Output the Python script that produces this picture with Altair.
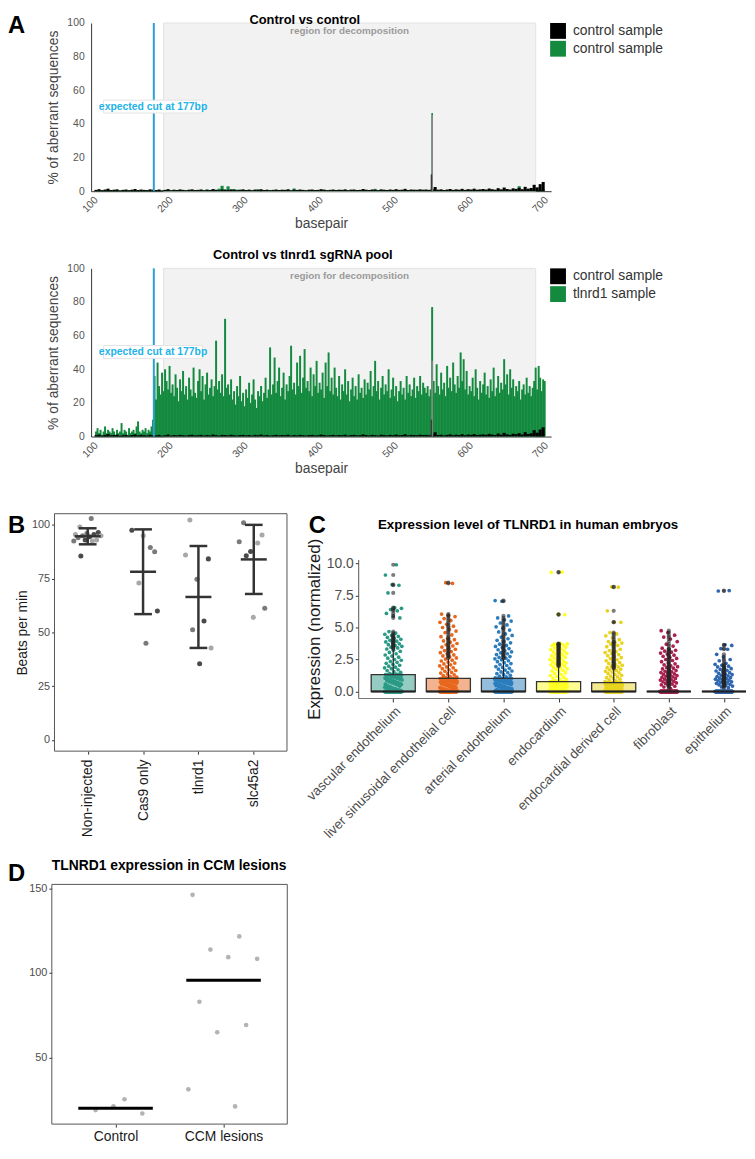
import json
import altair as alt
import pandas as pd

FONT = "Liberation Sans"
GREEN = "#138a3e"
CUT_BLUE = "#2a9fd4"
W, H = 739, 1143  # whole figure (single view); panels are placed through their scale ranges

# ---------------- Panel A data ----------------
ctrl_bp = list(range(100, 700, 4))
ctrl_black = [
    0.8, 1.2, 0.6, 1.0, 1.5, 0.7, 0.9, 1.1, 0.5, 0.8,
    1.0, 0.6, 0.9, 1.3, 0.7, 1.0, 0.8, 0.6, 1.1, 0.9,
    0.7, 1.0, 0.5, 0.8, 1.2, 0.6, 0.9, 0.7, 1.0, 0.8,
    0.6, 0.9, 1.1, 0.7, 0.8, 1.0, 0.6, 0.9, 0.7, 1.2,
    0.8, 0.6, 1.0, 0.9, 0.7, 1.1, 0.8, 0.6, 0.9, 1.0,
    0.7, 0.9, 0.6, 1.0, 0.8, 1.2, 0.7, 0.9, 0.6, 0.8,
    1.0, 0.7, 0.9, 0.8, 1.1, 0.6, 0.9, 0.7, 1.0, 0.8,
    0.6, 0.9, 1.0, 0.7, 0.8, 1.2, 0.9, 0.6, 0.8, 1.0,
    0.7, 0.9, 0.8, 1.1, 0.6, 0.9, 1.0, 0.7, 0.8, 1.3,
    0.9, 0.7, 1.0, 0.8, 0.6, 1.1, 0.9, 0.7, 1.0, 0.8,
    1.2, 0.8, 0.9, 1.4, 0.7, 1.0, 0.9, 0.8, 1.1, 0.9,
    1.0, 0.8, 1.2, 2.5, 0.9, 1.1, 0.7, 1.0, 1.3, 0.8,
    1.1, 0.9, 1.4, 0.8, 1.2, 1.0, 1.5, 0.9, 1.1, 1.3,
    1.0, 1.6, 1.2, 0.9, 1.8, 1.1, 2.2, 1.3, 1.0, 1.7,
    1.4, 2.0, 1.2, 2.6, 1.5, 1.9, 3.8, 2.3, 4.2, 5.5]
ctrl2_green = [
    0.5, 0.3, 0.6, 0.4, 0.8, 0.3, 0.5, 0.7, 0.4, 0.6,
    0.3, 0.5, 0.4, 0.6, 0.3, 0.5, 0.4, 0.7, 0.3, 0.5,
    0.4, 0.6, 0.3, 0.5, 0.8, 0.4, 0.6, 0.3, 0.9, 0.5,
    0.4, 0.7, 0.5, 0.3, 0.6, 0.8, 0.4, 0.9, 0.5, 1.2,
    0.8, 1.5, 3.2, 1.0, 2.9, 0.7, 1.3, 0.9, 0.6, 1.0,
    0.5, 0.8, 0.4, 0.6, 1.1, 0.5, 0.7, 0.4, 0.6, 0.5,
    0.7, 0.4, 0.6, 0.5, 0.9, 0.4, 1.6, 0.8, 0.5, 0.6,
    0.4, 0.6, 0.5, 0.7, 0.4, 0.6, 0.8, 0.5, 0.4, 0.6,
    0.5, 0.7, 0.4, 0.6, 0.5, 0.8, 0.4, 0.6, 0.5, 0.7,
    0.4, 0.6, 0.5, 1.4, 0.7, 0.5, 0.6, 0.4, 0.5, 0.7,
    0.6, 0.4, 0.5, 0.7, 0.4, 0.6, 0.5, 0.8, 0.4, 0.6,
    0.5, 0.7, 0.4, 1.0, 0.6, 0.5, 0.7, 0.4, 0.6, 0.5,
    0.7, 0.4, 0.6, 0.5, 0.8, 0.4, 0.6, 0.7, 0.5, 0.6,
    0.4, 0.6, 0.5, 0.7, 0.4, 0.6, 0.8, 0.5, 0.6, 0.4,
    0.7, 3.0, 0.5, 0.8, 0.6, 1.0, 0.7, 0.9, 0.8, 1.1]
ctrl_spike_tall_bp, ctrl_spike_tall_val = [548], [45]
ctrl_spike_low_bp, ctrl_spike_low_val = [547], [10]
ctrl2_spike_bp, ctrl2_spike_val = [548], [46.5]

tl_bp = list(range(100, 700, 2))
tl_green = [
    3, 5, 2, 4, 1, 3, 6, 2, 4, 3,
    2, 5, 3, 1, 4, 2, 3, 8, 2, 4,
    3, 1, 5, 2, 3, 4, 2, 6, 9, 3,
    2, 4, 3, 5, 2, 4, 3, 6, 10,
    36, 22, 44, 30, 25, 38, 27, 40, 33, 28,
    42, 26, 31, 24, 37, 29, 21, 34, 27, 39,
    25, 30, 22, 35, 28, 24, 41, 26, 23, 33,
    40, 27, 36, 22, 31, 38, 25, 29, 34, 24,
    30, 57, 28, 33, 26, 37, 24, 70, 29, 31,
    25, 34, 22, 27, 19, 30, 24, 36, 21, 26,
    18, 28, 23, 32, 20, 25, 34, 22, 17, 27,
    24, 30, 21, 26, 35, 23, 28, 53, 25, 31,
    47, 26, 33, 41, 24, 29, 38, 22, 31, 27,
    36, 54, 28, 32, 25, 44, 30, 48, 26, 35,
    52, 29, 33, 27, 41, 24, 37, 30, 45, 26,
    32, 28, 38, 23, 44, 30, 50, 27, 35, 25,
    41, 29, 24, 36, 22, 31, 27, 40, 25, 33,
    21, 28, 35, 24, 30, 22, 37, 26, 29, 23,
    34, 25, 32, 28, 39, 24, 30, 45, 27, 33,
    22, 29, 36, 25, 31, 27, 40, 23, 28, 35,
    24, 30, 21, 27, 33, 25, 29, 22, 36, 26,
    31, 24, 28, 35, 23, 30, 27, 36, 25, 32,
    29, 26, 30, 24, 28, 77, 33, 26, 43, 30,
    25, 38, 28, 32, 24, 42, 29, 35, 27, 44,
    31, 26, 36, 29, 50, 33, 46, 28, 39, 25,
    30, 27, 35, 24, 40, 29, 22, 33, 26, 31,
    38, 25, 30, 23, 34, 27, 41, 24, 29, 36,
    26, 32, 28, 46, 31, 37, 25, 40, 29, 34,
    24, 30, 27, 33, 22, 28, 31, 25, 35, 26,
    30, 24, 29, 33, 41, 28, 42, 35, 27, 34, 33]

region_start, region_end = 190, 686
cut_bp = 177
cut_label_bp, cut_label_val = 176, 50.3
a_ticks = [100, 200, 300, 400, 500, 600, 700]
a_yticks = [0, 20, 40, 60, 80, 100]

# ---------------- Panel B data ----------------
b_groups = ["Non-injected", "Cas9 only", "tlnrd1", "slc45a2"]
b_noninjected = [103, 99, 96.5, 96, 95.5, 95.5, 95, 95, 94.5, 94, 93, 93, 92.5, 92.5, 85.5]
b_cas9 = [87.5, 95, 97.5, 89.5, 73, 60, 45]
b_tlnrd1 = [102.3, 84.2, 74.7, 86, 55.3, 51.2, 42.8, 35.4]
b_slc45a2 = [101, 95.3, 87.6, 92.2, 91.6, 85.7, 61.2, 57]
b_yticks = [0, 25, 50, 75, 100]

# ---------------- Panel C data ----------------
c_names = ["vascular endothelium", "liver sinusoidal endothelial cell", "arterial endothelium",
           "endocardium", "endocardial derived cell", "fibroblast", "epithelium"]
c_point_colors = ["#2a9a86", "#e8671e", "#2b7dbc", "#ffff24", "#e8d31e", "#a8224d", "#2f66b0"]
c_zero_counts = [115, 115, 115, 115, 115, 200, 170]
c_vascular = [
    0.06, 0.12, 0.09, 0.18, 0.24, 0.15, 0.29, 0.33, 0.21, 0.38,
    0.42, 0.27, 0.47, 0.51, 0.36, 0.55, 0.6, 0.44, 0.64, 0.68,
    0.57, 0.72, 0.75, 0.62, 0.79, 0.83, 0.7, 0.87, 0.9, 0.77,
    0.94, 0.97, 0.85, 1.01, 1.04, 0.92, 1.07, 1.1, 0.99, 1.13,
    1.16, 1.05, 1.19, 1.21, 1.12, 1.24, 1.26, 1.18, 1.28, 1.29,
    1.3, 1.3, 1.31, 1.31, 1.31,
    1.36, 1.42, 1.5, 1.55, 1.63, 1.7, 1.78, 1.85, 1.9, 1.98,
    2.05, 2.12, 2.2, 2.28, 2.35, 2.44, 2.5, 2.6, 2.68, 2.77,
    2.85, 2.95, 3.05, 3.14, 3.22,
    3.32, 3.4, 3.46, 3.53, 3.6, 3.66, 3.72, 3.8, 3.87, 3.93,
    4.0, 4.08, 4.15, 4.22, 4.3, 4.38, 4.47, 4.56, 4.68,
    5.75, 5.9, 6.1, 6.3, 6.4, 6.5, 6.55, 7.7, 8.3, 8.35, 9.1, 9.9]
c_liver = [
    0.05, 0.11, 0.08, 0.16, 0.2, 0.13, 0.25, 0.29, 0.19, 0.33,
    0.37, 0.24, 0.41, 0.45, 0.31, 0.49, 0.52, 0.4, 0.56, 0.59,
    0.47, 0.62, 0.65, 0.54, 0.68, 0.71, 0.6, 0.74, 0.77, 0.66,
    0.8, 0.82, 0.73, 0.85, 0.87, 0.79, 0.89, 0.91, 0.84, 0.93,
    0.95, 0.88, 0.97, 0.98, 0.92, 0.99, 1.0, 0.96, 1.01, 1.02,
    1.02, 1.03, 1.03, 1.03, 1.03,
    1.08, 1.12, 1.18, 1.25, 1.3, 1.37, 1.44, 1.5, 1.58, 1.64,
    1.7, 1.78, 1.85, 1.92, 2.0, 2.08, 2.15, 2.22, 2.3, 2.38,
    2.45, 2.53,
    2.62, 2.7, 2.78, 2.86, 2.95, 3.03, 3.12, 3.2, 3.3, 3.38,
    3.47, 3.56, 3.65, 3.75, 3.85, 3.95, 4.05, 4.15, 4.28, 4.42,
    4.6, 4.72, 4.85, 5.0, 5.1, 5.25, 5.4, 5.55, 5.7, 5.85, 5.95, 6.05,
    8.45, 8.5]
c_arterial = [
    0.07, 0.13, 0.1, 0.18, 0.22, 0.15, 0.27, 0.31, 0.2, 0.35,
    0.39, 0.26, 0.43, 0.46, 0.33, 0.5, 0.53, 0.42, 0.57, 0.6,
    0.48, 0.63, 0.66, 0.55, 0.69, 0.72, 0.61, 0.75, 0.78, 0.67,
    0.81, 0.83, 0.74, 0.86, 0.88, 0.8, 0.9, 0.92, 0.85, 0.94,
    0.95, 0.89, 0.97, 0.98, 0.93, 0.99, 1.0, 0.96, 1.01, 1.02,
    1.02, 1.03, 1.03, 1.03, 1.03,
    1.06, 1.14, 1.2, 1.27, 1.33, 1.4, 1.47, 1.53, 1.6, 1.67,
    1.74, 1.81, 1.88, 1.95, 2.03, 2.1, 2.18, 2.25, 2.33, 2.4,
    2.47, 2.55,
    2.6, 2.66, 2.73, 2.8, 2.88, 2.95, 3.02, 3.1, 3.18, 3.26,
    3.35, 3.43, 3.52, 3.6, 3.7, 3.8, 3.9, 4.0, 4.12, 4.25,
    4.38, 4.5,
    4.65, 4.8, 4.95, 5.05, 5.2, 5.35, 5.5, 5.6, 5.75, 5.9,
    7.05, 7.1]
c_endocardium = [
    0.04, 0.09, 0.07, 0.13, 0.16, 0.11, 0.2, 0.23, 0.15, 0.26,
    0.29, 0.19, 0.32, 0.35, 0.25, 0.38, 0.4, 0.31, 0.43, 0.45,
    0.36, 0.48, 0.5, 0.41, 0.52, 0.54, 0.47, 0.56, 0.58, 0.51,
    0.6, 0.62, 0.55, 0.64, 0.65, 0.59, 0.67, 0.68, 0.63, 0.7,
    0.71, 0.66, 0.72, 0.73, 0.69, 0.74, 0.75, 0.72, 0.76, 0.76,
    0.76, 0.77, 0.77, 0.77, 0.77,
    0.8, 0.86, 0.92, 0.98, 1.05, 1.12, 1.18, 1.25, 1.32, 1.4,
    1.47, 1.54, 1.6, 1.66, 1.72, 1.78, 1.84, 1.9,
    1.98, 2.03, 2.08, 2.13, 2.18, 2.23, 2.28, 2.33, 2.38, 2.44,
    2.5, 2.56, 2.62, 2.68, 2.74, 2.8, 2.86, 2.92, 2.98, 3.04,
    3.1, 3.16, 3.22, 3.28, 3.34, 3.4, 3.46, 3.52, 3.58, 3.63,
    3.68, 3.72, 3.75, 3.7,
    6.0, 6.03, 9.3, 9.33]
c_endo_derived = [
    0.04, 0.08, 0.06, 0.12, 0.15, 0.1, 0.18, 0.21, 0.14, 0.24,
    0.27, 0.17, 0.29, 0.32, 0.23, 0.35, 0.37, 0.28, 0.39, 0.41,
    0.33, 0.44, 0.46, 0.38, 0.48, 0.5, 0.43, 0.52, 0.53, 0.47,
    0.55, 0.57, 0.51, 0.58, 0.6, 0.54, 0.61, 0.62, 0.57, 0.63,
    0.64, 0.6, 0.65, 0.66, 0.63, 0.67, 0.68, 0.66, 0.69, 0.69,
    0.69, 0.7, 0.7, 0.7, 0.7,
    0.72, 0.78, 0.84, 0.9, 0.96, 1.02, 1.08, 1.14, 1.2, 1.27,
    1.34, 1.4, 1.46, 1.52, 1.58, 1.64, 1.69, 1.74,
    1.8, 1.86, 1.92, 1.98, 2.05, 2.12, 2.19, 2.26, 2.33, 2.4,
    2.48, 2.56, 2.64, 2.72, 2.8, 2.88, 2.96, 3.04, 3.12, 3.2,
    3.3, 3.4, 3.5, 3.6, 3.7, 3.78, 3.85, 3.9,
    4.05, 4.2, 4.35, 4.5, 4.6,
    5.4, 5.43, 6.3, 8.15, 8.18]
c_fibroblast = [
    0.22, 0.35, 0.41, 0.48, 0.52, 0.58, 0.63, 0.67, 0.72, 0.76,
    0.8, 0.85, 0.89, 0.93, 0.97, 1.02, 1.06, 1.1, 1.15, 1.19,
    1.24, 1.28, 1.33, 1.38, 1.43, 1.48, 1.53, 1.58, 1.64, 1.7,
    1.76, 1.82, 1.88, 1.94, 2.0,
    2.08, 2.16, 2.24, 2.33, 2.42, 2.5, 2.58, 2.66, 2.75, 2.84,
    2.92, 3.0, 3.08, 3.15, 3.22, 3.3, 3.38,
    3.55, 3.7, 3.9, 4.1, 4.25, 4.4, 4.6, 4.75]
c_epithelium = [
    0.3, 0.36, 0.42, 0.47, 0.52, 0.56, 0.6, 0.64, 0.68, 0.72,
    0.76, 0.8, 0.84, 0.88, 0.92, 0.96, 1.0, 1.04, 1.08, 1.12,
    1.17, 1.22, 1.27, 1.32, 1.37, 1.42, 1.48, 1.54, 1.6, 1.66,
    1.72, 1.78, 1.85, 1.92, 1.98, 2.05, 2.12, 2.2,
    2.4, 2.5, 2.7, 2.9, 3.3, 3.35, 3.6, 3.65,
    7.85, 7.88]
c_values = [c_vascular, c_liver, c_arterial, c_endocardium, c_endo_derived, c_fibroblast, c_epithelium]
c_yticks = [0, 2.5, 5, 7.5, 10]

# ---------------- Panel D data ----------------
d_groups = ["Control", "CCM lesions"]
d_control = [25.2, 18.8, 16.8, 21.1]
d_ccm = [146.3, 121.7, 113.9, 108.4, 109.4, 83.0, 69.2, 64.9, 31.1, 21.0]
d_yticks = [50, 100, 150]

ONE = pd.DataFrame({"k": [0]})


def text_at(text, x, y, size, bold=True, align="center", baseline="middle"):
    return alt.Chart(ONE).mark_text(text=text, font=FONT, fontSize=size,
                                    fontWeight="bold" if bold else "normal", color="black",
                                    align=align, baseline=baseline).encode(
        x=alt.value(x), y=alt.value(y))


def letter(ch, x, y):
    return text_at(ch, x, y, 24, True, "left", "top")


# ---------------- Panel A ----------------
CTRL_NAME = "control sample"
BOX_PATH = "M-1,-0.13L1,-0.13L1,0.13L-1,0.13Z"
ctrl_df = pd.DataFrame({"bp": ctrl_bp, "val": ctrl_black, "series": CTRL_NAME})
spike_tall_df = pd.DataFrame({"bp": ctrl_spike_tall_bp, "val": ctrl_spike_tall_val})
spike_low_df = pd.DataFrame({"bp": ctrl_spike_low_bp, "val": ctrl_spike_low_val})
region_df = pd.DataFrame({"bp": [region_start], "bp2": [region_end], "val": [100], "val0": [0]})
region_lab_df = pd.DataFrame({"bp": [(region_start + region_end) / 2]})
cut_df = pd.DataFrame({"bp": [cut_bp], "val": [100], "val0": [0]})
cut_lab_df = pd.DataFrame({"bp": [cut_label_bp], "val": [cut_label_val]})


def panel_a(top, title, title_x, title_y, title_baseline, green_name, green_df, green_size,
            extra, green_spike_df=None):
    bottom = top + 170
    xs = alt.Scale(domain=[100, 700], range=[84, 549], nice=False, zero=False)
    ys = alt.Scale(domain=[0, 100], range=[bottom, top], nice=False, zero=False)
    ax_x = alt.Axis(orient="bottom", offset=-(H - bottom), values=a_ticks, labelAngle=-45,
                    labelAlign="right", labelBaseline="middle", ticks=False, labelPadding=7,
                    labelFontSize=10.5, labelColor="#555555", domainColor="#333333",
                    title="basepair", titleFontSize=14, titleColor="#444444", titlePadding=2,
                    labelOverlap=False)
    ax_y = alt.Axis(orient="left", offset=-84, values=a_yticks, ticks=False, labelPadding=7,
                    labelFontSize=10.5, labelColor="#555555", domainColor="#333333",
                    title="% of aberrant sequences", titleFontSize=14, titleColor="#444444",
                    titlePadding=6)
    leg = alt.Legend(title=None, orient="none", legendX=548, legendY=top, padding=0,
                     symbolType="square", symbolSize=256, symbolStrokeWidth=0, labelFontSize=14,
                     labelColor="#333333", labelFont=FONT, rowPadding=2, labelOffset=7)

    def X(f):
        return alt.X(f, type="quantitative", scale=xs, axis=ax_x)

    def Y(f):
        return alt.Y(f, type="quantitative", scale=ys, axis=ax_y, stack=None)

    color = alt.Color("series:N", scale=alt.Scale(domain=[CTRL_NAME, green_name],
                                                  range=["#000000", GREEN]), legend=leg)
    layers = [
        alt.Chart(region_df).mark_rect(fill="#f2f2f2", stroke="#e2e2e2", strokeWidth=1).encode(
            x=X("bp"), x2=alt.X2("bp2"), y=Y("val"), y2=alt.Y2("val0")),
        alt.Chart(region_lab_df).mark_text(text="region for decomposition", font=FONT, fontSize=10,
                                           fontWeight="bold", color="#9a9a9a",
                                           baseline="middle").encode(x=X("bp"), y=alt.value(top + 8)),
        alt.Chart(green_df).mark_bar(orient="vertical", size=green_size).encode(
            x=X("bp"), y=Y("val"), color=color),
    ]
    if green_spike_df is not None:
        layers.append(alt.Chart(green_spike_df).mark_bar(orient="vertical", size=1.6, color=GREEN).encode(
            x=X("bp"), y=Y("val")))
    layers += [
        alt.Chart(ctrl_df).mark_bar(orient="vertical", size=3.1).encode(
            x=X("bp"), y=Y("val"), color=color),
        alt.Chart(spike_tall_df).mark_bar(orient="vertical", size=1.6, color="#8a8a8a").encode(
            x=X("bp"), y=Y("val")),
        alt.Chart(spike_low_df).mark_bar(orient="vertical", size=1.4, color="#3a3a3a").encode(
            x=X("bp"), y=Y("val")),
        alt.Chart(cut_df).mark_rule(color=CUT_BLUE, strokeWidth=2).encode(
            x=X("bp"), y=Y("val"), y2=alt.Y2("val0")),
        alt.Chart(cut_lab_df).mark_point(shape=BOX_PATH, size=10000, filled=True, fill="white",
                                         stroke="#e4e4e4", strokeWidth=1, opacity=1).encode(
            x=X("bp"), y=Y("val")),
        alt.Chart(cut_lab_df).mark_text(text="expected cut at 177bp", font=FONT, fontSize=10.5,
                                        fontWeight="bold", color="#22b3e8", align="center",
                                        baseline="middle").encode(x=X("bp"), y=Y("val")),
        text_at(title, title_x, title_y, 13, True, "center", title_baseline),
    ] + extra
    return alt.layer(*layers)


a1_green_df = pd.DataFrame({"bp": ctrl_bp, "val": ctrl2_green, "series": "control sample "})
a1_spike_df = pd.DataFrame({"bp": ctrl2_spike_bp, "val": ctrl2_spike_val})
A1 = panel_a(9, "Control vs control", 300, 0, "top", "control sample ", a1_green_df, 3.1,
             [letter("A", 0, 0)], a1_spike_df)
a2_green_df = pd.DataFrame({"bp": tl_bp, "val": tl_green, "series": "tlnrd1 sample"})
A2 = panel_a(257, "Control vs tlnrd1 sgRNA pool", 298, 244, "middle", "tlnrd1 sample",
             a2_green_df, 2.0, [])

# ---------------- Panel B ----------------
b_rows = []
for gi, vals in enumerate([b_noninjected, b_cas9, b_tlnrd1, b_slc45a2], start=1):
    for v in vals:
        b_rows.append({"gi": gi, "value": v})
b_df = pd.DataFrame(b_rows)
B_XDOM, B_YDOM = [0.4, 4.6], [-5.2, 105.2]
B_XS = alt.Scale(domain=B_XDOM, range=[47, 282], nice=False, zero=False)
B_YS = alt.Scale(domain=B_YDOM, range=[745, 505], nice=False, zero=False)
B_AX_X = alt.Axis(orient="bottom", offset=-(H - 745), values=[1, 2, 3, 4],
                  labelExpr=json.dumps(b_groups) + "[datum.value - 1]",
                  labelAngle=-90, labelAlign="right", labelBaseline="middle", labelFontSize=14,
                  labelColor="#1a1a1a", tickSize=3, tickColor="#333333", domain=False, title=None,
                  labelPadding=5, labelOverlap=False)
B_AX_Y = alt.Axis(orient="left", offset=-47, values=b_yticks, labelFontSize=11,
                  labelColor="#4d4d4d", tickSize=3, tickColor="#333333", domain=False,
                  title="Beats per min", titleFontSize=14, titleColor="#1a1a1a", titlePadding=2,
                  labelPadding=2)


def BX(f):
    return alt.X(f, type="quantitative", scale=B_XS, axis=B_AX_X)


def BY(f):
    return alt.Y(f, type="quantitative", scale=B_YS, axis=B_AX_Y)


b_frame_df = pd.DataFrame({"x0": [B_XDOM[0]], "x1": [B_XDOM[1]], "y0": [B_YDOM[0]], "y1": [B_YDOM[1]]})
b_frame = alt.Chart(b_frame_df).mark_rect(filled=False, stroke="#555555", strokeWidth=1).encode(
    x=BX("x0"), x2=alt.X2("x1"), y=BY("y0"), y2=alt.Y2("y1"))
b_pts = alt.Chart(b_df).transform_window(i="row_number()").transform_calculate(
    xj="datum.gi + 0.27 * (2 * ((datum.i * 0.6180339887) % 1) - 1)",
    shade="datum.i % 3").mark_circle(size=26, opacity=1).encode(
    x=BX("xj"), y=BY("value"),
    color=alt.Color("shade:N", scale=alt.Scale(domain=[0, 1, 2], range=["#4a4a4a", "#7a7a7a", "#a8a8a8"]),
                    legend=None))
b_stats = alt.Chart(b_df).transform_aggregate(
    m="mean(value)", sd="stdev(value)", groupby=["gi"]).transform_calculate(
    lo="datum.m - datum.sd", hi="datum.m + datum.sd",
    cl="datum.gi - 0.16", cr="datum.gi + 0.16", ml="datum.gi - 0.235", mr="datum.gi + 0.235")
RULE_B = dict(color="#333333", strokeWidth=2.5)
b_vert = b_stats.mark_rule(**RULE_B).encode(x=BX("gi"), y=BY("lo"), y2=alt.Y2("hi"))
b_cap_lo = b_stats.mark_rule(**RULE_B).encode(x=BX("cl"), x2=alt.X2("cr"), y=BY("lo"))
b_cap_hi = b_stats.mark_rule(**RULE_B).encode(x=BX("cl"), x2=alt.X2("cr"), y=BY("hi"))
b_mean = b_stats.mark_rule(**RULE_B).encode(x=BX("ml"), x2=alt.X2("mr"), y=BY("m"))
B = alt.layer(b_frame, b_pts, b_vert, b_cap_lo, b_cap_hi, b_mean, letter("B", 0, 505))

# ---------------- Panel C ----------------
c_rows = []
for k, (z, vals) in enumerate(zip(c_zero_counts, c_values), start=1):
    for v in [0.0] * z + vals:
        c_rows.append({"ci": k, "value": v})
c_df = pd.DataFrame(c_rows)
C_XS = alt.Scale(domain=[0.3645, 7.275], range=[354, 739], nice=False, zero=False)
C_YS = alt.Scale(domain=[-0.51, 10.31], range=[691.3, 551.3], nice=False, zero=False)
C_AX_X = alt.Axis(orient="bottom", offset=-(H - 691.3), values=list(range(1, 8)),
                  labelExpr=json.dumps(c_names) + "[datum.value - 1]",
                  labelAngle=-45, labelAlign="right", labelBaseline="top", labelFontSize=13.5,
                  labelColor="#4d4d4d", labelLimit=400, labelOverlap=False, tickSize=4,
                  tickColor="#333333", domainColor="#777777", domainWidth=1.2, title=None,
                  labelPadding=2)
C_AX_Y = alt.Axis(orient="left", offset=-354, values=c_yticks, format=".1f", labelFontSize=14,
                  labelColor="#4d4d4d", tickSize=3, tickColor="#333333", domainColor="#555555",
                  title="Expression (normalized)", titleFontSize=17, titleColor="#1a1a1a",
                  titlePadding=3, labelPadding=2)


def CX(f):
    return alt.X(f, type="quantitative", scale=C_XS, axis=C_AX_X)


def CY(f):
    return alt.Y(f, type="quantitative", scale=C_YS, axis=C_AX_Y)


c_color = alt.Color("ci:N", scale=alt.Scale(domain=list(range(1, 8)), range=c_point_colors), legend=None)
c_pts = alt.Chart(c_df).transform_window(i="row_number()").transform_calculate(
    xj="datum.ci + 0.16 * (2 * ((datum.i * 0.6180339887) % 1) - 1)").mark_circle(
    size=14, opacity=1).encode(x=CX("xj"), y=CY("value"), color=c_color)
c_box_base = alt.Chart(c_df).transform_aggregate(
    q1="q1(value)", q3="q3(value)", med="median(value)", groupby=["ci"]).transform_calculate(
    xl="datum.ci - 0.4", xr="datum.ci + 0.4")
c_box = c_box_base.mark_rect(stroke="#333333", strokeWidth=1.3, fillOpacity=0.5).encode(
    x=CX("xl"), x2=alt.X2("xr"), y=CY("q1"), y2=alt.Y2("q3"), color=c_color)
c_med = c_box_base.mark_rule(color="#222222", strokeWidth=2).encode(
    x=CX("xl"), x2=alt.X2("xr"), y=CY("med"))
c_fence = alt.Chart(c_df).transform_joinaggregate(
    q1="q1(value)", q3="q3(value)", groupby=["ci"]).transform_calculate(
    fence="datum.q3 + 1.5 * (datum.q3 - datum.q1)")
c_whisk = c_fence.transform_filter("datum.value <= datum.fence").transform_aggregate(
    wmax="max(value)", q3m="max(q3)", groupby=["ci"]).mark_rule(color="#222222", strokeWidth=1.2).encode(
    x=CX("ci"), y=CY("q3m"), y2=alt.Y2("wmax"))
c_out = c_fence.transform_filter("datum.value > datum.fence").mark_circle(
    size=18, color="#262626", opacity=0.6).encode(x=CX("ci"), y=CY("value"))
C = alt.layer(c_pts, c_box, c_whisk, c_med, c_out,
              text_at("Expression level of TLNRD1 in human embryos", 525.7, 516, 13.5),
              letter("C", 304, 505))

# ---------------- Panel D ----------------
d_rows = []
for gi, vals in enumerate([d_control, d_ccm], start=1):
    for v in vals:
        d_rows.append({"gi": gi, "value": v})
d_df = pd.DataFrame(d_rows)
D_XDOM, D_YDOM = [0.41, 2.59], [10.5, 152.5]
D_XS = alt.Scale(domain=D_XDOM, range=[44.3, 282.3], nice=False, zero=False)
D_YS = alt.Scale(domain=D_YDOM, range=[1122, 879.7], nice=False, zero=False)
D_AX_X = alt.Axis(orient="bottom", offset=-(H - 1122), values=[1, 2],
                  labelExpr=json.dumps(d_groups) + "[datum.value - 1]",
                  labelAngle=0, labelFontSize=14, labelColor="#1a1a1a", tickSize=3,
                  tickColor="#333333", domain=False, title=None, labelPadding=3, labelOverlap=False)
D_AX_Y = alt.Axis(orient="left", offset=-44.3, values=d_yticks, labelFontSize=11,
                  labelColor="#4d4d4d", tickSize=3, tickColor="#333333", domain=False,
                  title=None, labelPadding=2)


def DX(f):
    return alt.X(f, type="quantitative", scale=D_XS, axis=D_AX_X)


def DY(f):
    return alt.Y(f, type="quantitative", scale=D_YS, axis=D_AX_Y)


d_frame_df = pd.DataFrame({"x0": [D_XDOM[0]], "x1": [D_XDOM[1]], "y0": [D_YDOM[0]], "y1": [D_YDOM[1]]})
d_frame = alt.Chart(d_frame_df).mark_rect(filled=False, stroke="#555555", strokeWidth=1).encode(
    x=DX("x0"), x2=alt.X2("x1"), y=DY("y0"), y2=alt.Y2("y1"))
d_pts = alt.Chart(d_df).transform_window(i="row_number()").transform_calculate(
    xj="datum.gi + 0.35 * (2 * ((datum.i * 0.6180339887) % 1) - 1)").mark_circle(
    size=22, opacity=1, color="#b3b3b3").encode(x=DX("xj"), y=DY("value"))
d_med = alt.Chart(d_df).transform_aggregate(med="median(value)", groupby=["gi"]).transform_calculate(
    xl="datum.gi - 0.345", xr="datum.gi + 0.345").mark_rule(color="black", strokeWidth=3).encode(
    x=DX("xl"), x2=alt.X2("xr"), y=DY("med"))
D = alt.layer(d_frame, d_pts, d_med,
              text_at("TLNRD1 expression in CCM lesions", 162.8, 861, 14),
              letter("D", 0, 857))

# ---------------- Whole figure ----------------
chart = alt.layer(A1, A2, B, C, D).resolve_scale(
    x="independent", y="independent", color="independent").resolve_axis(
    x="independent", y="independent").resolve_legend(color="independent").properties(
    width=W, height=H, padding=0).configure_view(stroke=None).configure_axis(
    grid=False, labelFont=FONT, titleFont=FONT, titleFontWeight="normal").configure_legend(
    labelFont=FONT)

chart.save("out.html", embed_options={"renderer": "svg", "actions": False})
